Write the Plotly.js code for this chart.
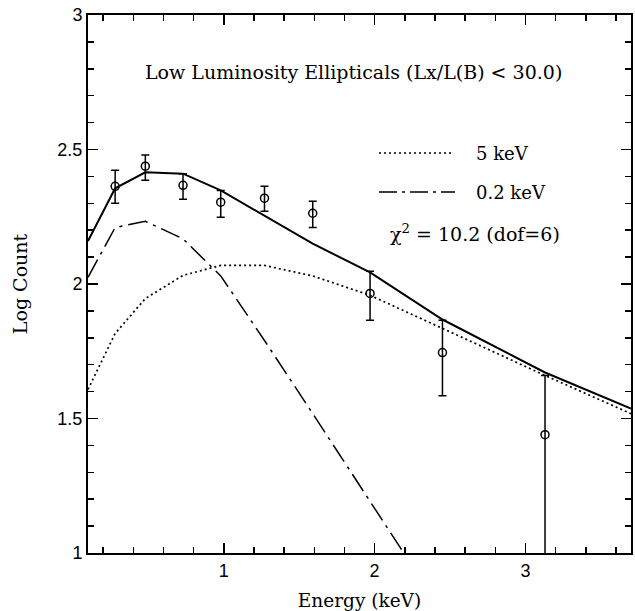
<!DOCTYPE html>
<html>
<head>
<meta charset="utf-8">
<script src="https://cdn.plot.ly/plotly-3.0.1.min.js"></script>
<style>html,body{margin:0;padding:0;background:#fff;}#chart{width:635px;height:611px;}</style>
</head>
<body>
<div id="chart"></div>
<script>
// Observed data points
var energy = [0.28, 0.48, 0.73, 0.98, 1.27, 1.59, 1.97, 2.45, 3.13];
var logCount = [2.363, 2.438, 2.367, 2.304, 2.319, 2.263, 1.965, 1.745, 1.44];
var errUp = [0.060, 0.042, 0.043, 0.044, 0.044, 0.045, 0.082, 0.120, 0.220];
var errDown = [0.063, 0.052, 0.052, 0.056, 0.049, 0.053, 0.100, 0.160, 0.600];

// Model curves
var modelEnergy = [0.1, 0.28, 0.48, 0.73, 0.98, 1.27, 1.59, 1.97, 2.45, 3.13, 3.7];
var totalModel = [2.16, 2.356, 2.415, 2.41, 2.348, 2.255, 2.15, 2.043, 1.868, 1.671, 1.537];
var hot5keV = [1.608, 1.816, 1.946, 2.032, 2.069, 2.069, 2.03, 1.958, 1.835, 1.66, 1.518];
var softEnergy = [0.1, 0.28, 0.48, 0.73, 0.98, 1.27, 1.59, 1.97, 2.45];
var soft02keV = [2.025, 2.21, 2.233, 2.168, 2.03, 1.79, 1.518, 1.192, 0.78];

var titleText = 'Low Luminosity Ellipticals (Lx/L(B) < 30.0)';
var legendLabels = ['5 keV', '0.2 keV'];
var chiText = '\u03c7<sup>2</sup> = 10.2 (dof=6)';

var serif = 'DejaVu Serif, serif';
var sans = 'Liberation Sans, Arial, sans-serif';

var traces = [
  {x: modelEnergy, y: totalModel, mode: 'lines', line: {color: '#000', width: 2}, showlegend: false},
  {x: modelEnergy, y: hot5keV, mode: 'lines', line: {color: '#000', width: 1.7, dash: '2px,3px'}, showlegend: false},
  {x: softEnergy, y: soft02keV, mode: 'lines', line: {color: '#000', width: 1.5, dash: '20px,6px,3px,6px'}, showlegend: false},
  {x: energy, y: logCount, mode: 'markers',
   marker: {symbol: 'circle-open', size: 8, color: '#000', line: {width: 1.5, color: '#000'}},
   error_y: {type: 'data', symmetric: false, array: errUp, arrayminus: errDown, color: '#000', thickness: 1.5, width: 4},
   showlegend: false}
];

var axisCommon = {
  showgrid: false, zeroline: false, showline: true, linecolor: '#000', linewidth: 2,
  mirror: 'allticks', ticks: 'inside', ticklen: 10, tickwidth: 1.5, tickcolor: '#000',
  tickfont: {family: sans, size: 18, color: '#000'}
};

var layout = {
  width: 635, height: 611,
  margin: {l: 88, r: 4, t: 15, b: 58},
  paper_bgcolor: '#fff', plot_bgcolor: '#fff',
  showlegend: false,
  xaxis: Object.assign({}, axisCommon, {
    range: [0.1, 3.7], tickmode: 'array', tickvals: [1, 2, 3], ticktext: ['1', '2', '3'],
    minor: {dtick: 0.2, tick0: 0, ticks: 'inside', ticklen: 6, tickwidth: 1.5, tickcolor: '#000'},
    title: {text: 'Energy (keV)', font: {family: serif, size: 18.5, color: '#000'}, standoff: 16}
  }),
  yaxis: Object.assign({}, axisCommon, {
    range: [1, 3], tickmode: 'array', tickvals: [1, 1.5, 2, 2.5, 3], ticktext: ['1', '1.5', '2', '2.5', '3'],
    minor: {dtick: 0.1, tick0: 0, ticks: 'inside', ticklen: 6, tickwidth: 1.5, tickcolor: '#000'},
    title: {text: 'Log Count', font: {family: serif, size: 19, color: '#000'}, standoff: 25}
  }),
  shapes: [
    {type: 'line', xref: 'paper', yref: 'paper', x0: (379-88)/543, x1: (453-88)/543, y0: (553-153)/538, y1: (553-153)/538,
     line: {color: '#000', width: 1.4, dash: '2px,3px'}},
    {type: 'line', xref: 'paper', yref: 'paper', x0: (379-88)/543, x1: (455-88)/543, y0: (553-192)/538, y1: (553-192)/538,
     line: {color: '#000', width: 1.4, dash: '18px,5px,3px,5px'}}
  ],
  annotations: [
    {xref: 'paper', yref: 'paper', x: (353-88)/543, y: (553-72)/538, text: titleText, showarrow: false,
     xanchor: 'center', yanchor: 'middle', font: {family: serif, size: 19, color: '#000'}},
    {xref: 'paper', yref: 'paper', x: (474-88)/543, y: (553-153)/538, text: legendLabels[0], showarrow: false,
     xanchor: 'left', yanchor: 'middle', font: {family: serif, size: 18, color: '#000'}},
    {xref: 'paper', yref: 'paper', x: (474-88)/543, y: (553-192)/538, text: legendLabels[1], showarrow: false,
     xanchor: 'left', yanchor: 'middle', font: {family: serif, size: 18, color: '#000'}},
    {xref: 'paper', yref: 'paper', x: (388-88)/543, y: (553-233)/538, text: chiText, showarrow: false,
     xanchor: 'left', yanchor: 'middle', font: {family: serif, size: 19, color: '#000'}}
  ]
};

Plotly.newPlot('chart', traces, layout, {staticPlot: true, displayModeBar: false});
</script>
</body>
</html>
